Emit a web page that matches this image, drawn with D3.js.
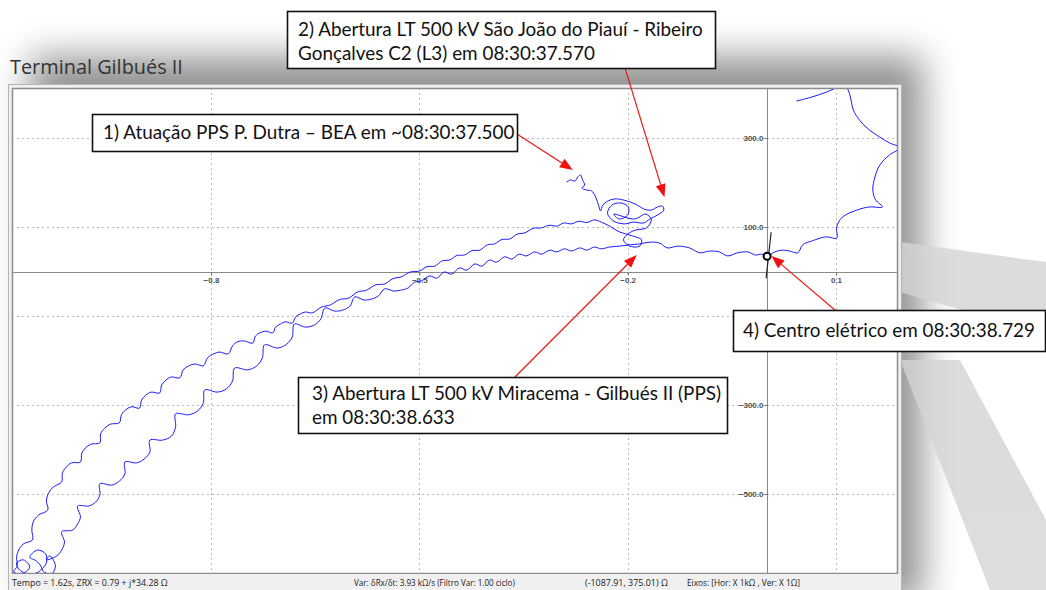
<!DOCTYPE html>
<html>
<head>
<meta charset="utf-8">
<script src="https://cdn.jsdelivr.net/npm/d3@7"></script>
<style>
  body { margin: 0; background: #fff; }
  svg { display: block; }
</style>
</head>
<body>
<div id="chart"></div>
<script>
// ---- data (R in kOhm, X in Ohm) ----
var xTicks = [-0.8, -0.5, -0.2, 0.1];
var yTicks = [300, 100, -100, -300, -500];
var yLabelTicks = [300, 100, -300, -500];   // -100.0 sits under note 4

var titleText = "Terminal Gilbués II";

// from PPS operation (1) into the loops around opening (2)
var pathStart = [
  [-0.288, 201], [-0.282, 206], [-0.276, 203], [-0.272, 212], [-0.268, 217], [-0.265, 206],
  [-0.262, 194], [-0.266, 188], [-0.259, 183], [-0.252, 181], [-0.246, 167], [-0.242, 149],
  [-0.239, 136], [-0.236, 149], [-0.229, 158], [-0.219, 163], [-0.207, 161], [-0.196, 156],
  [-0.186, 149], [-0.176, 140], [-0.166, 138], [-0.157, 145], [-0.150, 147], [-0.148, 138],
  [-0.157, 127], [-0.168, 118], [-0.177, 109], [-0.192, 111], [-0.204, 107], [-0.220, 113],
  [-0.229, 131], [-0.223, 149], [-0.210, 154], [-0.199, 145], [-0.200, 127], [-0.212, 118],
  [-0.220, 129], [-0.190, 118], [-0.174, 129], [-0.166, 116], [-0.173, 98], [-0.189, 93],
  [-0.200, 84], [-0.206, 71], [-0.197, 57], [-0.183, 57], [-0.180, 71], [-0.193, 80],
  [-0.212, 89], [-0.226, 102], [-0.238, 111]
];

// upper band, running down to the lower left corner
var upperBranch = [
  [-0.248, 116], [-0.259, 110], [-0.270, 113], [-0.281, 107], [-0.292, 109], [-0.302, 102],
  [-0.313, 104], [-0.324, 98], [-0.336, 97], [-0.348, 87], [-0.359, 84], [-0.370, 73],
  [-0.381, 72], [-0.392, 62], [-0.402, 60], [-0.413, 48], [-0.424, 47], [-0.435, 37],
  [-0.446, 36], [-0.456, 26], [-0.467, 24], [-0.478, 12], [-0.489, 11], [-0.500, 1],
  [-0.513, -1], [-0.526, -12], [-0.538, -16], [-0.550, -28], [-0.563, -30], [-0.576, -42],
  [-0.589, -46], [-0.602, -60], [-0.615, -63], [-0.628, -75], [-0.641, -80], [-0.654, -93],
  [-0.664, -91], [-0.671, -95], [-0.678, -102], [-0.683, -116],
  [-0.693, -113], [-0.700, -118], [-0.707, -125], [-0.711, -138],
  [-0.721, -134], [-0.730, -138], [-0.736, -145], [-0.740, -161],
  [-0.752, -156], [-0.762, -158], [-0.769, -167], [-0.775, -185],
  [-0.788, -181], [-0.796, -185], [-0.805, -194], [-0.811, -212],
  [-0.822, -208], [-0.832, -212], [-0.840, -221], [-0.845, -239],
  [-0.857, -237], [-0.865, -244], [-0.871, -255], [-0.874, -273],
  [-0.886, -271], [-0.894, -278], [-0.900, -289], [-0.903, -307],
  [-0.914, -304], [-0.923, -311], [-0.929, -322], [-0.932, -340],
  [-0.945, -343], [-0.953, -352], [-0.959, -365], [-0.960, -385],
  [-0.973, -388], [-0.981, -397], [-0.986, -408], [-0.988, -428],
  [-1.001, -430], [-1.008, -439], [-1.014, -453], [-1.015, -473],
  [-1.027, -484], [-1.034, -498], [-1.037, -516], [-1.035, -536],
  [-1.048, -547], [-1.056, -563], [-1.058, -581], [-1.057, -603],
  [-1.070, -612], [-1.077, -626], [-1.080, -642], [-1.079, -662]
];

var bottomCluster = [
  [-1.084, -675], [-1.073, -680], [-1.061, -664], [-1.070, -648], [-1.080, -655], [-1.074, -673],
  [-1.057, -680], [-1.044, -668], [-1.051, -651], [-1.061, -642], [-1.050, -626], [-1.038, -635],
  [-1.037, -655], [-1.043, -671], [-1.030, -680], [-1.024, -662], [-1.032, -639], [-1.037, -648]
];

// lower band, coming back up to the electrical centre (4)
var lowerBranch = [
  [-1.022, -639], [-1.015, -626], [-1.011, -608], [-1.015, -585],
  [-0.999, -581], [-0.992, -567], [-0.988, -552], [-0.992, -527],
  [-0.976, -527], [-0.966, -518], [-0.960, -502], [-0.960, -477],
  [-0.943, -480], [-0.932, -471], [-0.924, -455], [-0.924, -428],
  [-0.907, -430], [-0.896, -421], [-0.888, -406], [-0.888, -379],
  [-0.870, -379], [-0.857, -370], [-0.851, -349], [-0.851, -320],
  [-0.832, -322], [-0.819, -313], [-0.811, -295], [-0.809, -266],
  [-0.791, -271], [-0.778, -264], [-0.769, -246], [-0.766, -217],
  [-0.747, -221], [-0.734, -212], [-0.726, -194], [-0.723, -165],
  [-0.704, -172], [-0.691, -163], [-0.683, -147], [-0.680, -118],
  [-0.664, -125], [-0.651, -120], [-0.642, -107], [-0.636, -82],
  [-0.622, -89], [-0.611, -87], [-0.600, -78], [-0.593, -57],
  [-0.580, -64], [-0.569, -62], [-0.559, -55], [-0.550, -39],
  [-0.537, -44], [-0.527, -42], [-0.516, -37], [-0.507, -24],
  [-0.497, -21], [-0.485, -10], [-0.475, -15], [-0.464, -1], [-0.454, -6], [-0.442, 8],
  [-0.432, 3], [-0.420, 17], [-0.410, 12], [-0.399, 26], [-0.389, 21], [-0.377, 33],
  [-0.367, 28], [-0.356, 39], [-0.346, 35], [-0.334, 44], [-0.324, 39], [-0.312, 48],
  [-0.302, 44], [-0.291, 51], [-0.281, 46], [-0.269, 53], [-0.259, 48], [-0.248, 55],
  [-0.238, 51], [-0.226, 55], [-0.212, 57], [-0.197, 60], [-0.183, 62], [-0.168, 66],
  [-0.154, 64], [-0.143, 53], [-0.128, 57], [-0.111, 53], [-0.096, 42], [-0.082, 46],
  [-0.068, 44], [-0.056, 35], [-0.042, 42], [-0.027, 44], [-0.016, 37], [-0.007, 39],
  [0.001, 35]
];

var rightArc = [
  [0.012, 44], [0.022, 48], [0.033, 46], [0.045, 42], [0.052, 60], [0.066, 69],
  [0.086, 78], [0.101, 75], [0.101, 100], [0.109, 122], [0.130, 138], [0.148, 145],
  [0.167, 145], [0.157, 161], [0.153, 183], [0.156, 212], [0.163, 239], [0.177, 262],
  [0.192, 278], [0.177, 289], [0.163, 302], [0.145, 322], [0.134, 340], [0.125, 363],
  [0.121, 390], [0.118, 406], [0.114, 415], [0.105, 415], [0.086, 403], [0.065, 392],
  [0.043, 383]
];

var cursorPoint = [0.00079, 34.28];

var notes = [
  ["1) Atuação PPS P. Dutra – BEA em ~08:30:37.500"],
  ["2) Abertura LT 500 kV São João do Piauí - Ribeiro", "Gonçalves C2 (L3) em 08:30:37.570"],
  ["3) Abertura LT 500 kV Miracema - Gilbués II (PPS)", "em 08:30:38.633"],
  ["4) Centro elétrico em 08:30:38.729"]
];
var noteTargets = [[-0.279, 228], [-0.147, 167], [-0.187, 37], [0.007, 35]];

var statusTexts = [
  "Tempo =  1.62s, ZRX =  0.79 + j*34.28 Ω",
  "Var: δRx/δt:  3.93 kΩ/s (Filtro Var: 1.00 ciclo)",
  "(-1087.91, 375.01) Ω",
  "Eixos: [Hor: X 1kΩ , Ver: X 1Ω]"
];

// ---- layout ----
var W = 1046, H = 590;
var frame = {x: 8, y: 84, w: 893, h: 506};
var plot = {x: 12, y: 88, w: 886, h: 486};

var xScale = d3.scaleLinear().domain([-0.8, 0.1]).range([211, 836]);
var yScale = d3.scaleLinear().domain([300, -500]).range([138, 494]);

var svg = d3.select("#chart").append("svg")
  .attr("width", W)
  .attr("height", H);

var defs = svg.append("defs");
defs.append("filter").attr("id", "soft")
  .attr("x", "-30%").attr("y", "-30%").attr("width", "160%").attr("height", "160%")
  .append("feGaussianBlur").attr("stdDeviation", 18);
defs.append("clipPath").attr("id", "plotClip")
  .append("rect")
  .attr("x", plot.x + 1).attr("y", plot.y + 1)
  .attr("width", plot.w - 2).attr("height", plot.h - 2);

/* picture shadow + grey shapes behind the window */
svg.append("rect")
  .attr("x", frame.x + 22).attr("y", frame.y - 28)
  .attr("width", frame.w).attr("height", frame.h + 40)
  .attr("fill", "#000").attr("opacity", 0.42)
  .attr("filter", "url(#soft)");

var deco = svg.append("g").attr("fill", "#d4d4d4").attr("opacity", 0.8);
deco.append("polygon").attr("points", "900,242 1046,262 1046,335 900,292");
deco.append("polygon").attr("points", "900,360 960,360 1046,520 1046,590 990,590");

/* window */
svg.append("rect")
  .attr("x", frame.x + 0.5).attr("y", frame.y + 0.5)
  .attr("width", frame.w).attr("height", frame.h)
  .attr("fill", "#f0f0f0").attr("stroke", "#b4b4b4");
svg.append("rect")
  .attr("x", plot.x + 0.5).attr("y", plot.y + 0.5)
  .attr("width", plot.w - 1).attr("height", plot.h - 1)
  .attr("fill", "#fff").attr("stroke", "#8c8c8c").attr("stroke-width", 1.5);

var g = svg.append("g").attr("clip-path", "url(#plotClip)");

/* grid */
g.selectAll(".vgrid").data(xTicks).enter().append("line")
  .attr("class", "vgrid")
  .attr("x1", d => Math.round(xScale(d)) + 0.5).attr("x2", d => Math.round(xScale(d)) + 0.5)
  .attr("y1", plot.y).attr("y2", plot.y + plot.h)
  .attr("stroke", "#b8b8b8").attr("stroke-dasharray", "2,3");
g.selectAll(".hgrid").data(yTicks).enter().append("line")
  .attr("class", "hgrid")
  .attr("y1", d => Math.round(yScale(d)) + 0.5).attr("y2", d => Math.round(yScale(d)) + 0.5)
  .attr("x1", plot.x).attr("x2", plot.x + plot.w)
  .attr("stroke", "#b8b8b8").attr("stroke-dasharray", "2,3");

/* axes through the origin */
var x0 = Math.round(xScale(0)) + 0.5, y0 = Math.round(yScale(0)) + 0.5;
g.append("line").attr("x1", plot.x).attr("x2", plot.x + plot.w).attr("y1", y0).attr("y2", y0)
  .attr("stroke", "#8a8a8a");
g.append("line").attr("x1", x0).attr("x2", x0).attr("y1", plot.y).attr("y2", plot.y + plot.h)
  .attr("stroke", "#8a8a8a");

var fmt = d3.format(".1f");
var xAxis = g.append("g").attr("transform", `translate(0, ${y0})`)
  .call(d3.axisBottom(xScale).tickValues(xTicks).tickFormat(fmt).tickSize(3).tickPadding(2));
var yAxis = g.append("g").attr("transform", `translate(${x0}, 0)`)
  .call(d3.axisLeft(yScale).tickValues(yLabelTicks).tickFormat(fmt).tickSize(3).tickPadding(1));
[xAxis, yAxis].forEach(function(a) {
  a.select(".domain").remove();
  a.selectAll("line").attr("stroke", "#6a6a6a");
  a.selectAll("text")
    .attr("fill", "#505050")
    .style("font-family", "'Liberation Sans', Arial, sans-serif")
    .style("font-size", "8px")
    .style("font-weight", "bold");
});
yAxis.selectAll("text").attr("dy", "0.35em");

/* impedance trajectory */
var traj = [].concat(pathStart, upperBranch, bottomCluster, lowerBranch, rightArc);
var line = d3.line()
  .x(d => xScale(d[0]))
  .y(d => yScale(d[1]))
  .curve(d3.curveCatmullRom.alpha(0.5));
g.append("path")
  .attr("d", line(traj))
  .attr("fill", "none")
  .attr("stroke", "#1a1aff")
  .attr("stroke-width", 1);

/* cursor */
var cx = xScale(cursorPoint[0]), cy = yScale(cursorPoint[1]);
g.append("line")
  .attr("x1", cx + 4).attr("y1", cy - 24).attr("x2", cx - 1).attr("y2", cy + 22)
  .attr("stroke", "#222").attr("stroke-width", 1.2);
g.append("circle")
  .attr("cx", cx).attr("cy", cy).attr("r", 3.5)
  .attr("fill", "#fff").attr("stroke", "#000").attr("stroke-width", 2);

/* status bar */
var sb = svg.append("g");
sb.append("rect").attr("x", frame.x + 1).attr("y", plot.y + plot.h)
  .attr("width", frame.w - 1).attr("height", H - plot.y - plot.h)
  .attr("fill", "#f0f0f0");
var statusX = [12, 354, 585, 687];
var statusW = [156, 161, 83, 113];
sb.selectAll("text").data(statusTexts).enter().append("text")
  .attr("x", (d, i) => statusX[i])
  .attr("y", 586)
  .attr("fill", "#202020")
  .style("font-family", "'Open Sans', 'Noto Sans', sans-serif")
  .style("font-size", "9px")
  .text(d => d)
  .each(function(d, i) { fitWidth(d3.select(this), statusW[i]); });

/* title */
var title = svg.append("text")
  .attr("x", 10).attr("y", 74)
  .attr("fill", "#333")
  .style("font-family", "'Open Sans', 'Noto Sans', sans-serif")
  .style("font-size", "18px")
  .text(titleText);
fitWidth(title, 173);

function fitWidth(sel, target) {
  var w = sel.node().getComputedTextLength();
  var fs = parseFloat(sel.style("font-size"));
  sel.style("font-size", (fs * target / w).toFixed(2) + "px");
}

/* arrows */
var arrowFrom = [[517, 134], [625, 68], [515, 377], [836, 311]];
var ann = svg.append("g");
noteTargets.forEach(function(t, i) {
  var x2 = xScale(t[0]), y2 = yScale(t[1]);
  var x1 = arrowFrom[i][0], y1 = arrowFrom[i][1];
  var ang = Math.atan2(y2 - y1, x2 - x1);
  var hl = 13, hw = 5;
  var bx = x2 - hl * Math.cos(ang), by = y2 - hl * Math.sin(ang);
  ann.append("line")
    .attr("x1", x1).attr("y1", y1).attr("x2", bx).attr("y2", by)
    .attr("stroke", "#f01010").attr("stroke-width", 1.1);
  ann.append("polygon")
    .attr("points", [
      [x2, y2],
      [bx + hw * Math.sin(ang), by - hw * Math.cos(ang)],
      [bx - hw * Math.sin(ang), by + hw * Math.cos(ang)]
    ].map(p => p.join(",")).join(" "))
    .attr("fill", "#f01010");
});

/* note boxes */
var boxes = [
  {x: 92, y: 114, w: 425, h: 37, tx: 103, ty: [139]},
  {x: 287, y: 11, w: 428, h: 57, tx: 298, ty: [36, 60]},
  {x: 298, y: 377, w: 429, h: 56, tx: 312, ty: [400, 424]},
  {x: 733, y: 310, w: 312, h: 41, tx: 743, ty: [337]}
];
var probe = svg.append("text")
  .style("font-family", "Lato, 'Open Sans', sans-serif")
  .style("font-size", "18px")
  .text(notes[1][0]);
var noteSize = 18 * 405 / probe.node().getComputedTextLength();
probe.remove();

boxes.forEach(function(b, i) {
  ann.append("rect")
    .attr("x", b.x + 0.5).attr("y", b.y + 0.5)
    .attr("width", b.w).attr("height", b.h)
    .attr("fill", "#fff").attr("stroke", "#111").attr("stroke-width", 1.6);
  notes[i].forEach(function(s, j) {
    ann.append("text")
      .attr("x", b.tx).attr("y", b.ty[j])
      .attr("fill", "#111")
      .style("font-family", "Lato, 'Open Sans', sans-serif")
      .style("font-size", noteSize.toFixed(2) + "px")
      .text(s);
  });
});
</script>
</body>
</html>
